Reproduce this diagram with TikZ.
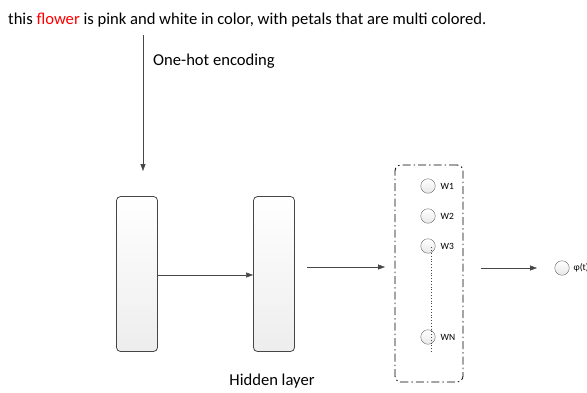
\documentclass[tikz,border=0pt]{standalone}
\usepackage{fontspec}
\setmainfont{Carlito}
\usepackage{tikz}
\usetikzlibrary{arrows.meta}
\definecolor{linegray}{RGB}{70,70,70}
\begin{document}
\begin{tikzpicture}
    [
        x=1pt, y=-1pt,
        layer/.style={rectangle, rounded corners=4pt, draw=linegray, thick, top color=white, bottom color=gray!14, minimum width=41pt, minimum height=155pt, inner sep=0pt},
        unit/.style={circle, draw=gray!80!black, top color=white, bottom color=gray!18, minimum size=14.5pt, inner sep=0pt},
        wlabel/.style={font=\fontsize{9.5}{10}\selectfont, anchor=west, inner sep=0pt},
        flow/.style={draw=linegray, -{Triangle[length=7pt,width=5pt]}},
        bigtext/.style={font=\fontsize{16.6}{19}\selectfont, inner sep=0pt},
    ]
\useasboundingbox (0,0) rectangle (587,392);
\clip (0,0) rectangle (587,392);

% sentence and encoding
\node[bigtext, anchor=base west] (sentence) at (8,24) {this \textcolor{red}{flower} is pink and white in color, with petals that are multi colored.};
\node[bigtext, anchor=base west] (onehot) at (153,65) {One-hot encoding};
\coordinate (inTop) at (143,35);
\coordinate (inEnd) at (143,171);
\draw[flow] (inTop) -- (inEnd);

% layers
\node[layer] (input) at (137,274) {};
\node[layer] (hidden) at (274,274) {};
\node[bigtext, anchor=base] (hiddenlabel) at (272,385) {Hidden layer};
\draw[flow] (input.east |- 0,275) -- (hidden.west |- 0,275);

% word units
\node[draw=black, thick, dash pattern=on 8pt off 3pt on 1.5pt off 3pt, rounded corners=6pt, minimum width=68pt, minimum height=217pt] (words) at (429,273.5) {};
\coordinate (hidOut) at (307,267);
\coordinate (wordIn) at (385,267);
\draw[flow] (hidOut) -- (wordIn);
\foreach \name/\y in {1/186, 2/216, 3/246, N/337}
{
  \node[unit] (w\name) at (428,\y) {};
  \node[wlabel] (wl\name) at ([xshift=5pt]w\name.east) {W\name};
}
\draw[linegray, dotted, thick] ([xshift=3pt,yshift=6pt]w3.south) -- ([xshift=3pt,yshift=-22pt]wN.north);

% output
\coordinate (wordOut) at (481,268);
\coordinate (outIn) at (537,268);
\draw[flow] (wordOut) -- (outIn);
\node[unit] (phi) at (562,268) {};
\node[wlabel] (phil) at ([xshift=4pt]phi.east) {φ(t)};
\end{tikzpicture}
\end{document}
